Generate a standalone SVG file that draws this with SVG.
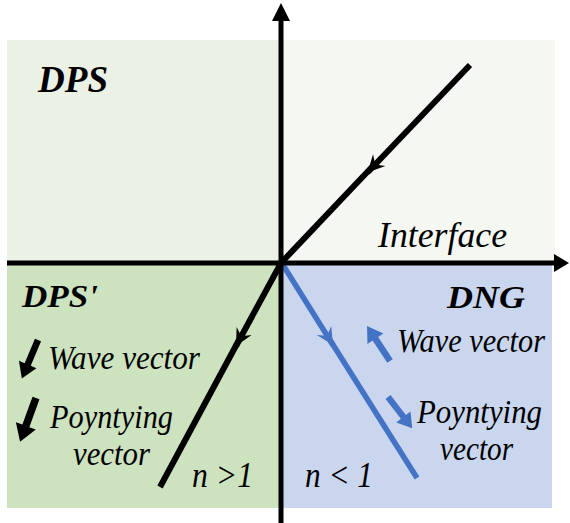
<svg xmlns="http://www.w3.org/2000/svg" width="570" height="523" viewBox="0 0 570 523">
  <style>
    .lbl { font-family: "Liberation Serif", "Times New Roman", serif; font-style: italic; fill: #000; }
    .big { font-weight: bold; }
    .axis { stroke: #000; stroke-width: 5; fill: none; }
    .ray { stroke: #000; stroke-width: 6; fill: none; stroke-linecap: butt; }
    .ray-blue { stroke: #4472C4; stroke-width: 5.5; fill: none; }
  </style>
  <defs>
    <marker id="stealth-k" markerUnits="userSpaceOnUse" markerWidth="20" markerHeight="20" viewBox="-18 -10 20 20" refX="0" refY="0" orient="auto">
      <path d="M0,0 L-17,-8.5 L-11,0 L-17,8.5 Z" fill="#000"/>
    </marker>
    <marker id="stealth-b" markerUnits="userSpaceOnUse" markerWidth="20" markerHeight="20" viewBox="-18 -10 20 20" refX="0" refY="0" orient="auto">
      <path d="M0,0 L-17,-8.5 L-11,0 L-17,8.5 Z" fill="#4472C4"/>
    </marker>
    <path id="blk" d="M0,-3.5 H28 V-10 L44,0 L28,10 V3.5 H0 Z"/>
  </defs>

  <g id="quadrants">
    <rect id="q-dps" x="7" y="40" width="274" height="223" fill="#EBF2E5"/>
    <rect id="q-top-right" x="281" y="40" width="274" height="223" fill="#F5F8F2"/>
    <rect id="q-dps-prime" x="7" y="263" width="274" height="245" fill="#CDE2BF"/>
    <rect id="q-dng" x="281" y="263" width="271" height="245" fill="#C9D6EE"/>
  </g>

  <g id="connectors">
    <path class="ray-blue" d="M330,340 L417,478"/>
    <line class="ray-blue" x1="283" y1="265" x2="333" y2="345" marker-end="url(#stealth-b)"/>
    <line class="ray" x1="470" y1="65" x2="367.5" y2="172.5" marker-end="url(#stealth-k)"/>
    <path class="ray" d="M372,167 L281,263"/>
    <line class="ray" x1="281" y1="263" x2="236" y2="346" marker-end="url(#stealth-k)"/>
    <path class="ray" d="M239,340 L160,487"/>
    <line class="axis" x1="7" y1="263" x2="556" y2="263"/>
    <polygon points="569,263 554,254 554,272" fill="#000"/>
    <line class="axis" x1="281" y1="523" x2="281" y2="18"/>
    <polygon points="281,3 272,21 290,21" fill="#000"/>
  </g>

  <g id="small-arrows">
    <use href="#blk" fill="#000" transform="translate(38,340) rotate(112.8) scale(0.95)"/>
    <use href="#blk" fill="#000" transform="translate(36,398) rotate(110) scale(1.06)"/>
    <use href="#blk" fill="#4472C4" transform="translate(390,361) rotate(-123.3) scale(0.95)"/>
    <use href="#blk" fill="#4472C4" transform="translate(388,397) rotate(52.3) scale(0.9)"/>
  </g>

  <g id="labels">
    <g id="label-dps"><text class="lbl big" x="38" y="92" font-size="37" textLength="70" lengthAdjust="spacingAndGlyphs">DPS</text></g>
    <g id="label-dps-prime"><text class="lbl big" x="22" y="307" font-size="32" textLength="76" lengthAdjust="spacingAndGlyphs">DPS'</text></g>
    <g id="label-dng"><text class="lbl big" x="447" y="308" font-size="32" textLength="78" lengthAdjust="spacingAndGlyphs">DNG</text></g>
    <g id="label-interface"><text class="lbl" x="378" y="247" font-size="36" textLength="129" lengthAdjust="spacingAndGlyphs">Interface</text></g>
    <g id="label-left-wave"><text class="lbl" x="48" y="369" font-size="33" textLength="152" lengthAdjust="spacingAndGlyphs">Wave vector</text></g>
    <g id="label-left-poynting">
      <text class="lbl" x="50" y="428" font-size="33" textLength="123" lengthAdjust="spacingAndGlyphs">Poyntying</text>
      <text class="lbl" x="73" y="465" font-size="33" textLength="77" lengthAdjust="spacingAndGlyphs">vector</text>
    </g>
    <g id="label-right-wave"><text class="lbl" x="397" y="352" font-size="33" textLength="148" lengthAdjust="spacingAndGlyphs">Wave vector</text></g>
    <g id="label-right-poynting">
      <text class="lbl" x="417" y="423" font-size="33" textLength="125" lengthAdjust="spacingAndGlyphs">Poyntying</text>
      <text class="lbl" x="440" y="460" font-size="33" textLength="73" lengthAdjust="spacingAndGlyphs">vector</text>
    </g>
    <g id="label-n-gt"><text class="lbl" x="192" y="487" font-size="35" textLength="61" lengthAdjust="spacingAndGlyphs">n &gt;1</text></g>
    <g id="label-n-lt"><text class="lbl" x="305" y="487" font-size="35" textLength="68" lengthAdjust="spacingAndGlyphs">n &lt; 1</text></g>
  </g>
</svg>
